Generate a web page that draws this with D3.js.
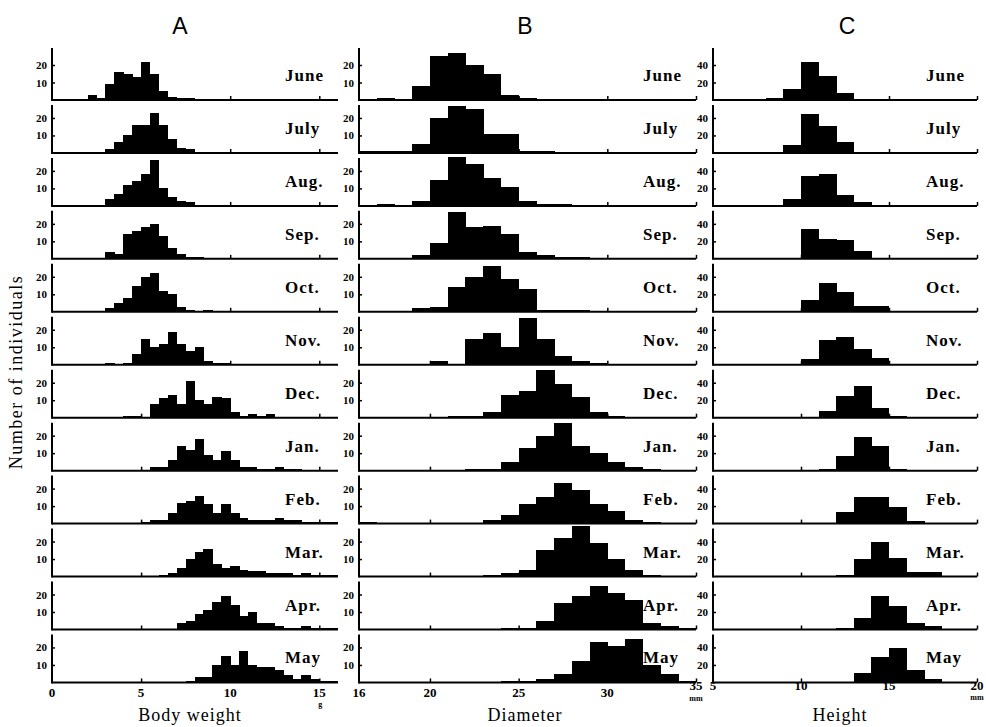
<!DOCTYPE html>
<html><head><meta charset="utf-8">
<script src="https://cdn.jsdelivr.net/npm/d3@7"></script>
<style>
body{margin:0;background:#fff}
svg text{fill:#000}
</style>
</head><body>
<svg id="chart" width="986" height="727"></svg>
<script>
// ---------- DATA ----------
const months = ["June","July","Aug.","Sep.","Oct.","Nov.","Dec.","Jan.","Feb.","Mar.","Apr.","May"];

// A: Body weight (g), bins of 0.5 g; first bin start per month
const weightBinWidth = 0.5;
const weightStart = [2.0, 3.0, 3.0, 3.0, 3.0, 3.0, 4.0, 5.5, 5.0, 6.0, 7.0, 7.5];
const weightCounts = [
  [3,1,9,16,15,13,22,15,5,2,1,1],
  [2,6,10,16,16,23,16,8,3,2],
  [4,7,12,14,18,26,10,5,3,2],
  [4,3,14,16,18,20,13,6,3,1,1],
  [2,5,8,15,20,22,12,10,3,1,0,1],
  [1,0,1,6,15,10,12,19,12,8,10,2,1,1],
  [1,1,0,8,11,13,8,21,10,8,12,11,3,1,2,1,2],
  [2,2,6,14,12,18,9,6,11,6,2,2,1,1,2,1,1],
  [1,2,2,6,12,13,16,11,6,11,6,3,2,2,2,3,2,2,1,1,1,1],
  [1,2,5,10,14,16,7,5,6,4,3,3,2,2,2,1,2,1,1,1],
  [4,5,9,11,16,19,14,8,10,4,4,2,1,1,2,1,1,1],
  [1,3,3,10,15,10,18,10,9,9,7,4,2,4,2,1,1]
];

// B: Diameter (mm), bins of 1 mm starting at 16 mm
const diameterBinWidth = 1;
const diameterStart = 16;
const diameterCounts = [
  [0,1,0,8,25,27,20,15,3,1],
  [1,1,1,5,20,27,25,11,11,1,1],
  [0,1,0,3,15,28,24,16,11,3,1,1],
  [0,0,0,2,9,27,18,19,14,4,2,1,1],
  [0,0,0,2,3,14,20,26,19,13,1,1,1],
  [0,0,0,0,2,0,15,18,10,27,15,5,2,1],
  [0,0,0,0,0,1,1,3,13,15,27,19,12,3,1],
  [0,0,0,0,0,0,1,1,5,13,20,27,14,10,5,2,1],
  [1,0,0,0,0,0,0,2,5,11,15,23,19,11,7,2,1],
  [0,0,0,0,0,0,0,1,2,4,15,22,29,19,10,4,1],
  [0,0,0,0,0,0,0,0,1,1,5,15,19,25,21,17,4,2,1],
  [0,0,0,0,0,0,0,0,1,1,2,5,12,23,21,25,10,5,1]
];

// C: Height (mm), bins of 1 mm starting at 5 mm
const heightBinWidth = 1;
const heightStart = 5;
const heightCounts = [
  [0,0,1,2,13,43,27,8],
  [0,0,0,1,9,44,31,13],
  [0,0,0,0,8,34,36,13,5,1],
  [0,0,0,0,1,34,23,21,9,1],
  [0,0,0,0,0,14,33,23,7,7],
  [0,0,0,0,0,7,28,32,18,8,1],
  [0,0,0,0,0,0,8,25,36,11,2],
  [0,0,0,0,0,0,2,17,38,28,2,1],
  [0,0,0,0,0,0,1,13,30,30,19,3,1],
  [0,0,0,0,0,0,0,2,20,40,21,5,5],
  [0,0,0,0,0,0,0,2,13,38,27,8,4],
  [0,0,0,0,0,0,0,1,11,29,39,14,4]
];

const weightTicks = [0,5,10,15];
const diameterTicks = [16,20,25,30,35];
const heightTicks = [5,10,15,20];
const countTicksAB = [10,20];
const countTicksC = [20,40];
const columnTitles = ["A","B","C"];
const axisTitles = ["Body weight","Diameter","Height"];
const yTitle = "Number of individuals";

// ---------- LAYOUT ----------
const svg = d3.select("#chart");
const serif = "'Liberation Serif','Times New Roman',serif";

const cols = [
  {title:columnTitles[0], axisTitle:axisTitles[0], titleX:180, axisTitleX:190,
   x:d3.scaleLinear().domain([0,16.05]).range([52,338]),
   start:weightStart, bw:weightBinWidth, counts:weightCounts, xticks:weightTicks,
   yDomainMax:20, yticks:countTicksAB, labelX:285, tickLabelY:697,
   unit:"g", unitAt:15, unitY:707},
  {title:columnTitles[1], axisTitle:axisTitles[1], titleX:525, axisTitleX:525,
   x:d3.scaleLinear().domain([16,35]).range([359,696]),
   start:months.map(()=>diameterStart), bw:diameterBinWidth, counts:diameterCounts, xticks:diameterTicks,
   yDomainMax:20, yticks:countTicksAB, labelX:643, tickLabelY:697,
   unit:"mm", unitAt:35, unitY:701},
  {title:columnTitles[2], axisTitle:axisTitles[2], titleX:847, axisTitleX:840,
   x:d3.scaleLinear().domain([5,20]).range([713,977]),
   start:months.map(()=>heightStart), bw:heightBinWidth, counts:heightCounts, xticks:heightTicks,
   yDomainMax:40, yticks:countTicksC, labelX:926, tickLabelY:690,
   unit:"mm", unitAt:20, unitY:700}
];

const baseline = i => 100 + i*52.95;
const barPx = 35; // pixel height of yDomainMax

cols.forEach((col, ci) => {
  const g = svg.append("g");
  g.append("text").attr("x", col.titleX).attr("y", 34)
    .attr("text-anchor","middle")
    .style("font-family","'Liberation Sans',Arial,sans-serif")
    .style("font-size","23px").text(col.title);

  months.forEach((m, mi) => {
    const b = baseline(mi);
    const y = d3.scaleLinear().domain([0, col.yDomainMax]).range([b, b - barPx]);
    const pg = g.append("g");
    const bins = col.counts[mi].map((c, k) => ({x0: col.start[mi] + k*col.bw, x1: col.start[mi] + (k+1)*col.bw, c}));

    pg.selectAll("rect").data(bins.filter(d => d.c > 0)).join("rect")
      .attr("x", d => col.x(d.x0))
      .attr("width", d => col.x(d.x1) - col.x(d.x0) + 0.4)
      .attr("y", d => y(d.c))
      .attr("height", d => b - y(d.c))
      .attr("fill","#000")
      .attr("shape-rendering","crispEdges");

    // left axis
    const yAxis = d3.axisLeft(y).tickValues(col.yticks).tickSize(-3).tickPadding(5);
    const ya = pg.append("g").attr("transform", `translate(${col.x.range()[0]},0)`).call(yAxis);
    ya.select(".domain").remove();
    ya.selectAll(".tick line").attr("stroke","#000").attr("stroke-width",1.5);
    ya.selectAll(".tick text").style("font-family",serif).style("font-weight","bold").style("font-size","11px");
    pg.append("line")
      .attr("x1", col.x.range()[0]).attr("x2", col.x.range()[0])
      .attr("y1", b - (mi === 0 ? 52 : 48)).attr("y2", b + 1)
      .attr("stroke","#000").attr("stroke-width",2);

    // bottom axis (baseline with upward ticks)
    const last = mi === months.length - 1;
    const xAxis = d3.axisBottom(col.x).tickValues(col.xticks.slice(1)).tickSize(-4);
    const xa = pg.append("g").attr("transform", `translate(0,${b})`).call(xAxis);
    xa.select(".domain").remove();
    xa.selectAll(".tick line").attr("stroke","#000").attr("stroke-width",1.5);
    xa.selectAll(".tick text").remove();
    pg.append("line")
      .attr("x1", col.x.range()[0]).attr("x2", col.x.range()[1])
      .attr("y1", b).attr("y2", b)
      .attr("stroke","#000").attr("stroke-width",2);

    pg.append("text").attr("x", col.labelX).attr("y", b - 19)
      .style("font-family",serif).style("font-weight","bold")
      .style("font-size","17px").style("letter-spacing","1px").text(m);

    if (last) {
      g.selectAll(null).data(col.xticks).join("text")
        .attr("x", d => col.x(d))
        .attr("y", d => (d === col.unitAt && ci === 1) ? 690 : col.tickLabelY)
        .attr("text-anchor","middle")
        .style("font-family",serif).style("font-weight","bold").style("font-size","13px")
        .text(d => d);
      g.append("text").attr("x", col.x(col.unitAt) + (ci===0?1:0))
        .attr("y", col.unitY)
        .attr("text-anchor","middle")
        .style("font-family",serif).style("font-weight","bold").style("font-size","8px")
        .text(col.unit);
    }
  });

  g.append("text").attr("x", col.axisTitleX).attr("y", 721)
    .attr("text-anchor","middle")
    .style("font-family",serif).style("font-size","18px").style("letter-spacing","1px")
    .text(col.axisTitle);
});

svg.append("text")
  .attr("transform","translate(22,372) rotate(-90)")
  .attr("text-anchor","middle")
  .style("font-family",serif).style("font-size","18px").style("letter-spacing","1.5px")
  .text(yTitle);
</script>
</body></html>
